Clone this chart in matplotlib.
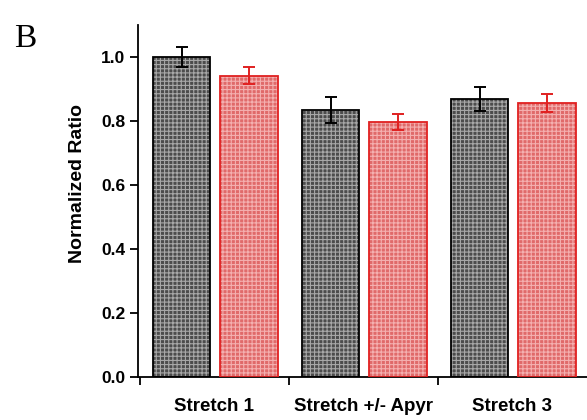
import matplotlib
matplotlib.use('Agg')
import matplotlib.pyplot as plt
import numpy as np

groups = ['Stretch 1', 'Stretch +/- Apyr', 'Stretch 3']
black_vals = [1.0, 0.834, 0.869]
black_err = [0.03, 0.04, 0.037]
red_vals = [0.942, 0.797, 0.856]
red_err = [0.027, 0.025, 0.028]
yticks = [0.0, 0.2, 0.4, 0.6, 0.8, 1.0]

plt.rcParams['font.family'] = ['Liberation Sans', 'DejaVu Sans']
plt.rcParams['hatch.linewidth'] = 0.8

fig = plt.figure(figsize=(5.87, 4.2), dpi=100)
ax = fig.add_axes([138 / 587, 1 - 377 / 420, 1 - 138 / 587, (377 - 25) / 420])

x = np.arange(len(groups))
w = 0.385
xb = x + 0.087 + w / 2
xr = x + 0.54 + w / 2

# hatched fill, then outline on top
ax.bar(xb, black_vals, w, color='#4c4c4c', edgecolor='#a8a8a8', hatch='++++', linewidth=0, zorder=2)
ax.bar(xb, black_vals, w, fill=False, edgecolor='black', linewidth=1.3, zorder=3)
ax.bar(xr, red_vals, w, color='#e06a6a', edgecolor='#f4b0b0', hatch='++++', linewidth=0, zorder=2)
ax.bar(xr, red_vals, w, fill=False, edgecolor='#e02020', linewidth=1.3, zorder=3)

ax.errorbar(xb, black_vals, yerr=black_err, fmt='none', ecolor='black', elinewidth=1.4, capsize=4, capthick=1.4, zorder=4)
ax.errorbar(xr, red_vals, yerr=red_err, fmt='none', ecolor='#e02020', elinewidth=1.4, capsize=4, capthick=1.4, zorder=4)

ax.set_xlim(-0.013, 3.0)
ax.set_ylim(0, 1.1)
ax.set_yticks(yticks)
ax.set_yticklabels(['%.1f' % v for v in yticks], fontsize=12.5, fontweight='bold')
ax.set_xticks([0, 1, 2])
ax.set_xticklabels([])
ax.set_xticks(x + 0.5, minor=True)
ax.set_xticklabels(groups, minor=True, fontsize=13.5, fontweight='bold')
ax.tick_params(axis='x', which='minor', length=0, pad=15)
ax.tick_params(axis='both', which='major', direction='out', length=6, width=1.3)
ax.tick_params(axis='y', pad=3)
ax.set_ylabel('Normalized Ratio', fontsize=14, fontweight='bold')
ax.yaxis.set_label_coords(-0.115, 0.55)

for s in ['top', 'right']:
    ax.spines[s].set_visible(False)
for s in ['left', 'bottom']:
    ax.spines[s].set_linewidth(1.3)

fig.text(14 / 587, 1 - 47 / 420, 'B', fontsize=24, family='Liberation Serif')

fig.savefig('out.png', dpi=100)
